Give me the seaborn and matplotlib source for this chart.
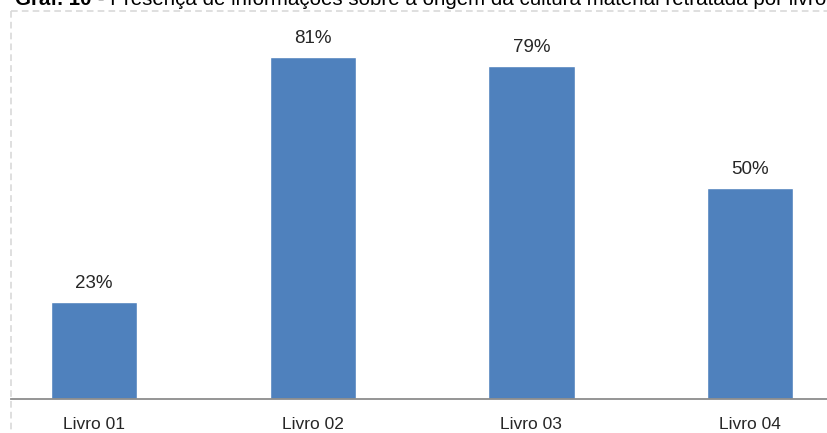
import matplotlib
matplotlib.use("Agg")
import matplotlib.pyplot as plt
import matplotlib.lines as mlines
import pandas as pd
import seaborn as sns

# Share of books with information on the origin of the material culture shown
livros = ["Livro 01", "Livro 02", "Livro 03", "Livro 04"]
percentuais = [23, 81, 79, 50]
titulo_negrito = "Graf. 10"
titulo_texto = " - Presença de informações sobre a origem da cultura material retratada por livro"

sns.set_theme(style="white")
plt.rcParams["font.family"] = ["Liberation Sans", "DejaVu Sans"]

W, H = 827, 433
fig = plt.figure(figsize=(W / 100, H / 100), dpi=100)
fig.patch.set_facecolor("white")

# Plot area in pixel terms: baseline at y=399, left edge at x=11
left_px, right_px = 11, 827
top_px, base_px = 11, 399
ax = fig.add_axes([left_px / W, 1 - base_px / H, (right_px - left_px) / W, (base_px - top_px) / H])

df = pd.DataFrame({"livro": livros, "pct": percentuais})
sns.barplot(data=df, x="livro", y="pct", color="#4F81BD", saturation=1,
            width=0.395, ax=ax, errorbar=None)

# Category spacing 218.7 px, first bar centred at x=94 px
step = 218.7
ax.set_xlim((left_px - 94) / step, (right_px - 94) / step)
px_per_unit = 4.22
ax.set_ylim(0, (base_px - top_px) / px_per_unit)

for cont in ax.containers:
    ax.bar_label(cont, labels=[f"{v}%" for v in percentuais], padding=7,
                 fontsize=13.5, color="#262626")

ax.set_xlabel("")
ax.set_ylabel("")
ax.set_yticks([])
ax.tick_params(axis="x", length=0, pad=13, labelsize=12.5, labelcolor="#262626")
for side in ("top", "right", "left"):
    ax.spines[side].set_visible(False)
ax.spines["bottom"].set_color("#8c8c8c")
ax.spines["bottom"].set_linewidth(1.3)
ax.set_facecolor("none")

# Dashed frame around the chart area
frame_kw = dict(color="#d9d9d9", linewidth=1.2, linestyle=(0, (4, 2.5)),
                transform=fig.transFigure)
fig.add_artist(mlines.Line2D([10.5 / W, 10.5 / W], [1 - 11 / H, 0], **frame_kw))
fig.add_artist(mlines.Line2D([10.5 / W, 1], [1 - 11 / H, 1 - 11 / H], **frame_kw))

# Caption above the chart
t1 = fig.text(15 / W, 1 - 5 / H, titulo_negrito, fontsize=14.8, fontweight="bold",
              color="black", va="baseline", ha="left")
fig.canvas.draw()
bb = t1.get_window_extent()
fig.text(bb.x1 / W, 1 - 5 / H, titulo_texto, fontsize=14.8, color="black",
         va="baseline", ha="left")

fig.savefig("out.png", dpi=100, facecolor="white")
